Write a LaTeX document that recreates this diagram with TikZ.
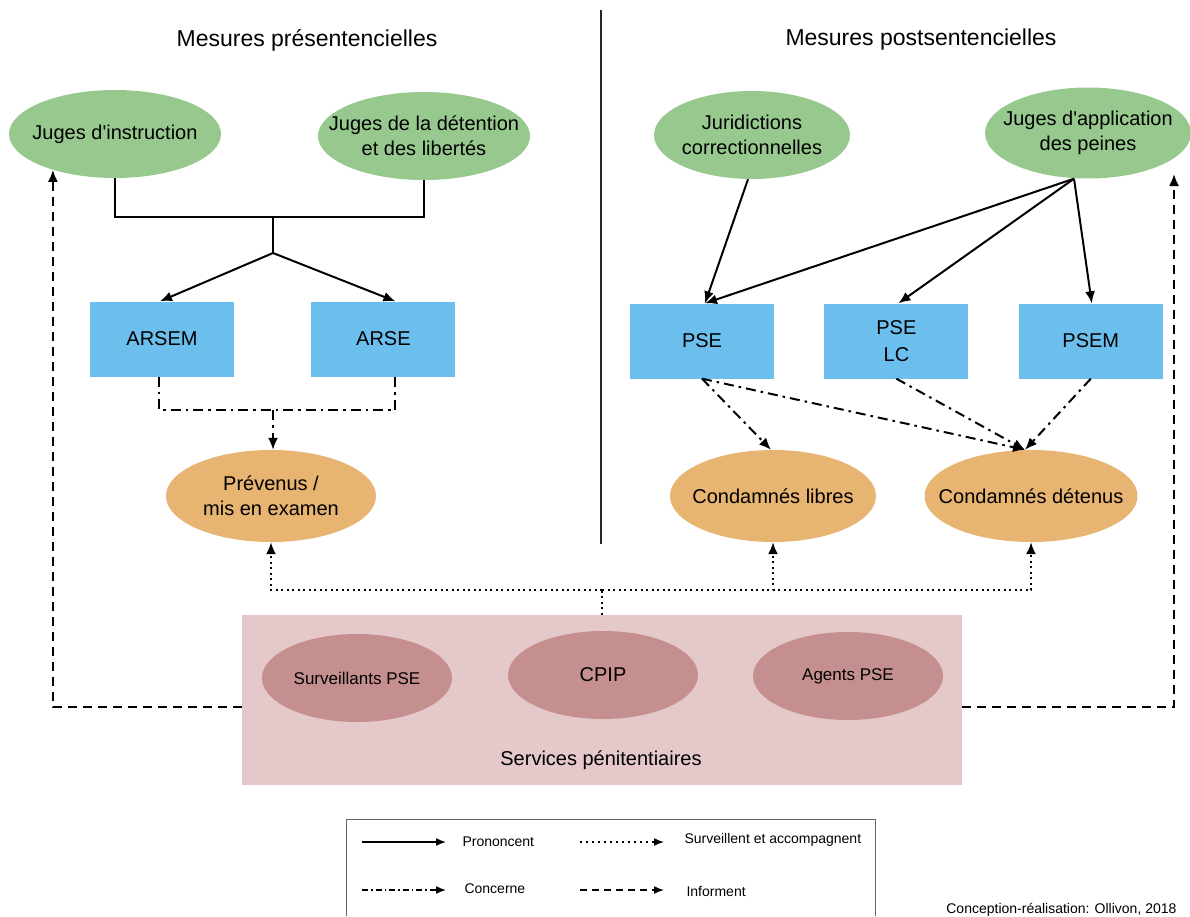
\documentclass[tikz,border=0pt]{standalone}
\usepackage{fontspec}
\setmainfont{Liberation Sans}
\usetikzlibrary{arrows.meta,positioning,shapes.geometric}
\definecolor{juge}{HTML}{97C98F}
\definecolor{mesure}{HTML}{6CBEED}
\definecolor{public}{HTML}{E7B471}
\definecolor{service}{HTML}{E4C8CA}
\definecolor{agent}{HTML}{C68F8F}
\tikzset{lbl/.style={align=center,font=\fontsize{20}{25}\selectfont},judge/.style={ellipse,fill=juge,inner sep=0pt,minimum width=212pt,minimum height=88pt,label={[lbl]center:#1}},mbox/.style={rectangle,fill=mesure,align=center,inner sep=0pt,minimum width=144pt,minimum height=75pt,font=\fontsize{20}{27}\selectfont},target/.style={ellipse,fill=public,inner sep=0pt,minimum width=210pt,minimum height=92pt,label={[lbl]center:#1}},staff/.style={ellipse,fill=agent,inner sep=0pt,minimum width=190pt,minimum height=88pt,label={[lbl,font=\fontsize{17}{20}\selectfont]center:#1}},pron/.style={line width=2pt},conc/.style={line width=2pt,dash pattern=on 10pt off 5pt on 2.5pt off 5pt},surv/.style={line width=2pt,dash pattern=on 2pt off 3.5pt},info/.style={line width=2pt,dash pattern=on 9pt off 6pt},tip/.style={-{Latex[length=12pt,width=10pt]}},legtip/.style={-{Latex[length=10pt,width=8pt]},line width=1.5pt},title/.style={font=\fontsize{23}{28}\selectfont},small/.style={font=\fontsize{14}{17}\selectfont}}

\begin{document}
\begin{tikzpicture}[x=1pt,y=-1pt]
\useasboundingbox (0,0) rectangle (1190,916);
% titres et separation
\node[title] (tpre) at (307,40) {Mesures présentencielles};
\node[title] (tpost) at (921,40) {Mesures postsentencielles};
\draw[line width=1.3pt,black!85] (601,10) -- (601,544);
% juges
\node[judge={Juges d\textquotesingle instruction}] (ji) at (115,134) {};
\node[judge={Juges de la détention\\et des libertés}] (jld) at (424,136) {};
\node[judge={Juridictions\\correctionnelles},minimum width=196pt] (jc) at (752,135) {};
\node[judge={Juges d\textquotesingle application\\des peines},minimum width=206pt,minimum height=91pt] (jap) at (1088,133) {};
% mesures
\node[mbox] (arsem) at (162,339) {ARSEM};
\node[mbox,right=77pt of arsem] (arse) {ARSE};
\node[mbox] (pse) at (702,341) {PSE};
\node[mbox,right=50pt of pse] (psel) {PSE\\LC};
\node[mbox,right=50pt of psel] (psem) {PSEM};
% publics
\node[target={Prévenus /\\mis en examen}] (prev) at (271,496) {};
\node[target={Condamnés libres},minimum width=206pt] (libres) at (773,496) {};
\node[target={Condamnés détenus},minimum width=213pt] (detenus) at (1031,496) {};
% services penitentiaires
\node[fill=service,inner sep=0pt,minimum width=720pt,minimum height=170pt] (serv) at (602,700) {};
\node[staff={Surveillants PSE}] (survpse) at (357,678) {};
\node[staff={\fontsize{20}{24}\selectfont CPIP}] (cpip) at (603,675) {};
\node[staff={Agents PSE}] (agents) at (848,676) {};
\node[lbl] (servlbl) at (601,760) {Services pénitentiaires};
% prononcent
\coordinate (pjoin) at (273,217); \coordinate (pfork) at (273,253);
\draw[pron] (ji.south) |- (pjoin) -| (jld.south); \draw[pron] (pjoin) -- (pfork);
\draw[pron,tip] (pfork) -- ([xshift=-2pt]arsem.north); \draw[pron,tip] (pfork) -- ([xshift=12pt]arse.north);
\draw[pron,tip] ([xshift=-4pt]jc.south) -- ([xshift=3pt]pse.north);
\draw[pron,tip] ([xshift=-14pt]jap.south) -- ([xshift=3pt]pse.north);
\draw[pron,tip] ([xshift=-14pt]jap.south) -- ([xshift=2pt]psel.north);
\draw[pron,tip] ([xshift=-14pt]jap.south) -- ([xshift=1pt]psem.north);
% concerne
\coordinate (cjoin) at (273,410);
\draw[conc] ([xshift=-3pt]arsem.south) |- (cjoin) -| ([xshift=12pt]arse.south);
\draw[conc,tip] (cjoin) -- (cjoin |- prev.north);
\draw[conc,tip] (pse.south) -- ([xshift=-2pt]libres.north);
\draw[conc,tip] (pse.south) -- ([xshift=-6pt]detenus.north);
\draw[conc,tip] (psel.south) -- ([xshift=-6pt]detenus.north);
\draw[conc,tip] (psem.south) -- ([xshift=-6pt]detenus.north);
% surveillent et accompagnent
\coordinate (sjoin) at (602,590);
\draw[surv] (serv.north) -- (sjoin);
\draw[surv,tip] (sjoin) -| (prev.south); \draw[surv,tip] (sjoin) -| (libres.south); \draw[surv,tip] (sjoin) -| (detenus.south);
% informent
\coordinate (infoR) at (1174,174);
\draw[info,tip] ([yshift=-7pt]serv.west) -| (ji.210);
\draw[info,tip] ([yshift=-7pt]serv.east) -| (infoR);
% legende
\draw[line width=1pt,black!60] (346,916) |- (875,819) -- (875,916);
\node[small,anchor=west] (lpron) at (459,842) {Prononcent};
\node[small,anchor=west] (lsurv) at (681,840) {Surveillent et accompagnent};
\node[small,anchor=west] (lconc) at (461,889) {Concerne};
\node[small,anchor=west] (linfo) at (683,891) {Informent};
\coordinate (lp1) at (362,842); \coordinate (lp2) at (446,842);
\coordinate (ls1) at (580,842); \coordinate (ls2) at (664,842);
\coordinate (lc1) at (362,890); \coordinate (lc2) at (446,890);
\coordinate (li1) at (580,890); \coordinate (li2) at (664,890);
\draw[legtip] (lp1) -- (lp2);
\draw[legtip,dash pattern=on 1.5pt off 4.5pt] (ls1) -- (ls2);
\draw[legtip,dash pattern=on 6pt off 3pt on 1.5pt off 3pt] (lc1) -- (lc2);
\draw[legtip,dash pattern=on 7pt off 5pt] (li1) -- (li2);
\node[small,anchor=base east] (credit) at (1180,913) {Conception-réalisation: Ollivon, 2018};
\end{tikzpicture}
\end{document}
